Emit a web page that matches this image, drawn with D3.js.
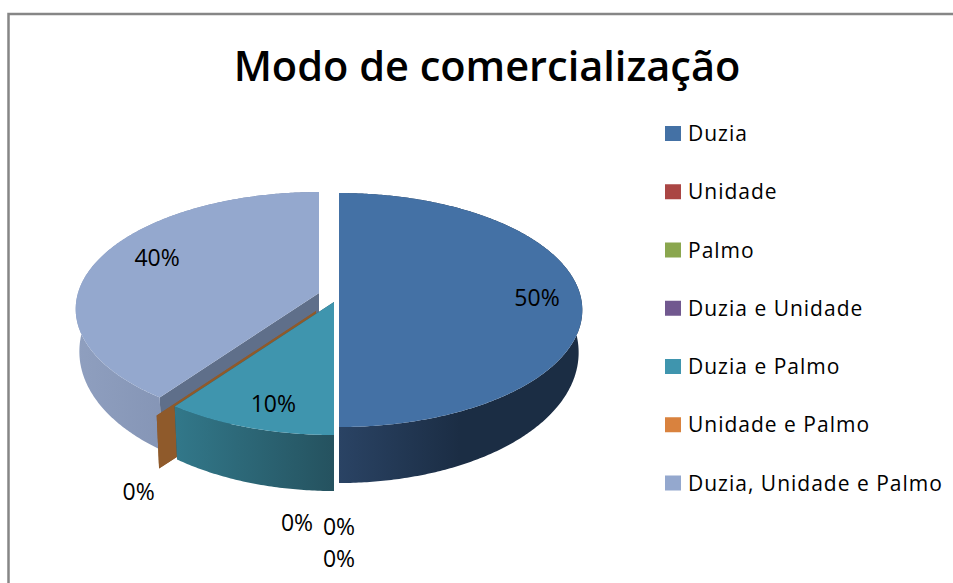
<!DOCTYPE html>
<html>
<head>
<meta charset="utf-8">
<script src='https://d3js.org/d3.v7.min.js'></script>
<style>
html, body {margin: 0; padding: 0; background: white; overflow: hidden;}
svg {display: block;}
text {fill: black; font-family: 'Open Sans', sans-serif;}
#title {font-weight: 600; font-size: 41.5px;}
.legendText {font-size: 21px; letter-spacing: 1px;}
.pct {font-size: 23px;}
</style>
</head>
<body>
<svg width=953 height=583></svg>
<script>
var titleText = 'Modo de comercialização';
var categories = ['Duzia', 'Unidade', 'Palmo', 'Duzia e Unidade', 'Duzia e Palmo', 'Unidade e Palmo', 'Duzia, Unidade e Palmo'];
var values = [50, 0, 0, 0, 10, 0, 40];
var colors = ['#4471a5', '#aa4644', '#8aa64e', '#71588f', '#3f95ae', '#d9823e', '#94a8ce'];

// slice side colours
var wallLeft = ['#2a4364', '#662a29', '#53642f', '#443556', '#32788a', '#8f5a2b', '#8f9fbf'];
var wallRight = ['#1b2d44', '#662a29', '#53642f', '#443556', '#25525f', '#8f5a2b', '#7484a6'];
var edgeColors = ['#1b2d44', '#662a29', '#53642f', '#443556', '#25525f', '#8f5a2b', '#5f6f8a'];

// where each exploded slice has its tip
var tipX = [339, 339, 339, 339, 334, 316, 319];
var tipY = [294, 294, 294, 294, 302, 311, 293];
// label offset from the middle of the slice's rim
var labelDx = [-43, -42, 0, 0, 25, -18, 58];
var labelDy = [4, 96, 100, 132, -24, 76, -1];
// back to front
var drawOrder = [6, 5, 1, 2, 3, 4, 0];

var rx = 241, ry = 114.8, tilt = 0.137, depth = 56, shrink = 0.985;

var svg = d3.select('svg');
var defs = svg.append('defs');

// frame, only top and left show in the window
svg.append('path')
	.attr('d', 'M8.5,583V14H953')
	.attr('fill', 'none')
	.attr('stroke', '#868686')
	.attr('stroke-width', 2.5);

svg.append('text')
	.attr('id', 'title')
	.attr('x', 487)
	.attr('y', 81)
	.attr('text-anchor', 'middle')
	.text(titleText);

// disc seen in perspective, angle 0 at the back, clockwise
function project(i, a, down) {
	var u = Math.sin(a), v = -Math.cos(a);
	var k = 1 / (1 - tilt * v);
	if (down) {
		// wall looks shorter on the sides than at the front
		return [tipX[i] + rx * u * k * shrink, tipY[i] + ry * v * k + depth * (0.72 + 0.28 * v)];
	}
	return [tipX[i] + rx * u * k, tipY[i] + ry * v * k];
}

function angles(s) {
	var list = d3.range(s.startAngle, s.endAngle, 0.01);
	list.push(s.endAngle);
	return list;
}

var line = d3.line();
var arcs = d3.pie().sort(null)(values);

drawOrder.forEach(function(i) {
	var s = arcs[i];
	var g = svg.append('g');
	var rimTop = angles(s).map(function(a) { return project(i, a, false); });
	var rimDown = angles(s).map(function(a) { return project(i, a, true); });
	var tip = [tipX[i], tipY[i]];
	var tipDown = [tipX[i], tipY[i] + depth];

	var grad = defs.append('linearGradient')
		.attr('id', 'wall' + i)
		.attr('gradientUnits', 'userSpaceOnUse')
		.attr('x1', d3.min(rimTop, function(p) { return p[0]; }))
		.attr('x2', i == 0 ? 460 : d3.max(rimTop, function(p) { return p[0]; }))
		.attr('y1', 0).attr('y2', 0);
	grad.append('stop').attr('offset', 0).attr('stop-color', wallLeft[i]);
	grad.append('stop').attr('offset', 1).attr('stop-color', wallRight[i]);

	// flat cut faces
	[s.startAngle, s.endAngle].forEach(function(a) {
		g.append('path')
			.attr('d', line([tip, project(i, a, false), project(i, a, true), tipDown]) + 'Z')
			.attr('fill', edgeColors[i]);
	});

	// outer wall
	g.append('path')
		.attr('d', line(rimTop.concat(rimDown.slice().reverse())) + 'Z')
		.attr('fill', 'url(#wall' + i + ')');

	// top face
	g.append('path')
		.attr('d', line([tip].concat(rimTop)) + 'Z')
		.attr('fill', colors[i]);
});

svg.selectAll('.pct')
	.data(arcs)
	.enter()
	.append('text')
	.attr('class', 'pct')
	.attr('text-anchor', 'middle')
	.attr('dy', '.35em')
	.attr('x', function(d, i) { return project(i, (d.startAngle + d.endAngle) / 2, false)[0] + labelDx[i]; })
	.attr('y', function(d, i) { return project(i, (d.startAngle + d.endAngle) / 2, false)[1] + labelDy[i]; })
	.text(function(d) { return d.value + '%'; });

var legendY = d3.scalePoint().domain(categories).range([133.5, 483]);

var legend = svg.selectAll('.legendItem')
	.data(categories)
	.enter()
	.append('g')
	.attr('class', 'legendItem')
	.attr('transform', function(d) { return 'translate(665,' + legendY(d) + ')'; });

legend.append('rect')
	.attr('y', -7.5)
	.attr('width', 16)
	.attr('height', 15)
	.attr('fill', function(d, i) { return colors[i]; });

legend.append('text')
	.attr('class', 'legendText')
	.attr('x', 23)
	.attr('y', 7.5)
	.text(function(d) { return d; });
</script>
</body>
</html>
